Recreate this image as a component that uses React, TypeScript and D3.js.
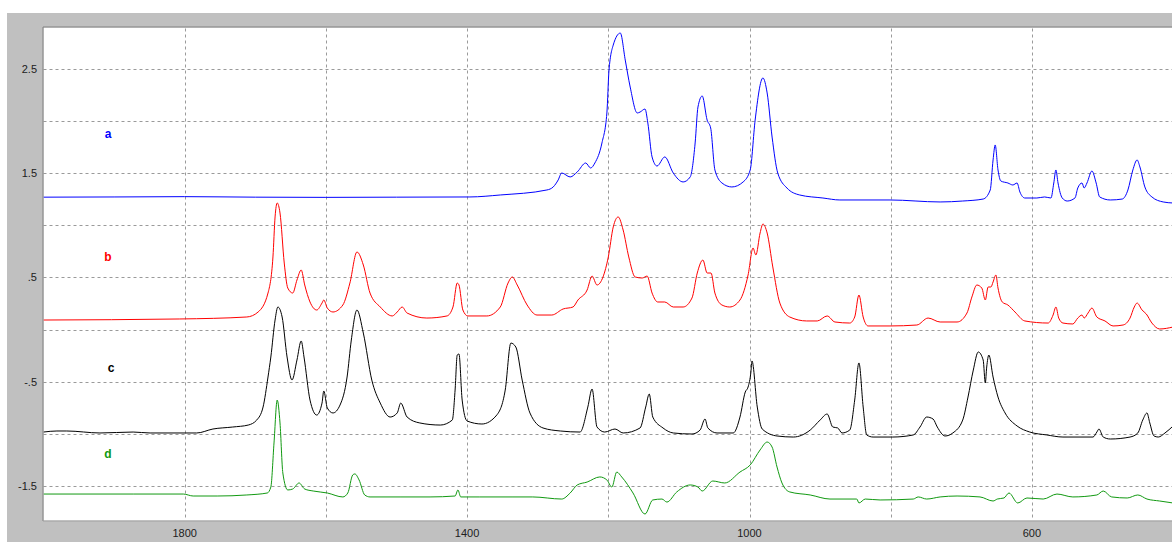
import React from "react";
import * as d3 from "d3";

// ---------- data (wavenumber cm-1, absorbance offset) ----------
const xTickValues = [1800, 1400, 1000, 600];
const xGridValues = [1800, 1600, 1400, 1200, 1000, 800, 600];
const yTickValues = [2.5, 1.5, 0.5, -0.5, -1.5];
const yTickLabels = ["2.5", "1.5", ".5", "-.5", "-1.5"];
const yGridValues = [2.5, 2, 1.5, 1, 0.5, 0, -0.5, -1, -1.5];
const seriesNames = ["a", "b", "c", "d"];

const seriesA: [number, number][] = [
  [2000, 1.27], [1900, 1.272], [1800, 1.275], [1700, 1.27], [1600, 1.268], [1500, 1.27], [1396, 1.272],
  [1353, 1.291], [1287, 1.339], [1278, 1.368], [1271, 1.435], [1266, 1.502], [1254, 1.464], [1244, 1.512],
  [1232, 1.598], [1225, 1.55], [1219, 1.598], [1209, 1.79], [1202, 2.078], [1199, 2.49], [1193, 2.73],
  [1183, 2.845], [1176, 2.586], [1169, 2.327], [1159, 2.078], [1155, 2.087], [1148, 2.116], [1144, 1.982],
  [1138, 1.656], [1131, 1.569], [1120, 1.656], [1108, 1.502], [1094, 1.416], [1084, 1.464], [1077, 1.79],
  [1073, 2.135], [1067, 2.241], [1060, 2.01], [1055, 1.934], [1049, 1.531], [1039, 1.406], [1025, 1.368],
  [1009, 1.416], [999, 1.531], [992, 2.01], [981, 2.414], [975, 2.27], [968, 1.847], [960, 1.502],
  [947, 1.358], [929, 1.291], [896, 1.262], [872, 1.243], [801, 1.243], [730, 1.224], [698, 1.233],
  [669, 1.252], [659, 1.339], [655, 1.627], [652, 1.771], [648, 1.531], [644, 1.425], [634, 1.406],
  [627, 1.387], [621, 1.406], [617, 1.32], [610, 1.262], [593, 1.262], [582, 1.272], [573, 1.262],
  [569, 1.406], [566, 1.531], [563, 1.406], [557, 1.262], [550, 1.233], [539, 1.262], [535, 1.358],
  [529, 1.406], [526, 1.358], [522, 1.406], [515, 1.521], [509, 1.406], [504, 1.272], [489, 1.243],
  [472, 1.252], [464, 1.339], [457, 1.531], [451, 1.627], [447, 1.56], [440, 1.368], [430, 1.272],
  [414, 1.224], [400, 1.214],
];

const seriesB: [number, number][] = [
  [2000, 0.091], [1807, 0.101], [1712, 0.12], [1696, 0.168], [1682, 0.35], [1675, 0.696], [1672, 1.08],
  [1669, 1.214], [1665, 1.118], [1659, 0.638], [1654, 0.398], [1647, 0.35], [1641, 0.475], [1635, 0.571],
  [1630, 0.427], [1622.5, 0.264], [1613, 0.187], [1605.5, 0.254], [1603, 0.283], [1598, 0.206], [1590, 0.168],
  [1576, 0.235], [1566, 0.446], [1556, 0.744], [1547, 0.619], [1537.5, 0.35], [1523, 0.216], [1506, 0.13],
  [1499, 0.168], [1492, 0.216], [1485, 0.158], [1457, 0.11], [1428.5, 0.13], [1420, 0.216], [1414, 0.446],
  [1411.5, 0.427], [1406, 0.187], [1399, 0.13], [1372, 0.13], [1353, 0.216], [1342, 0.446], [1336, 0.504],
  [1329, 0.427], [1315, 0.235], [1301, 0.139], [1280, 0.139], [1264, 0.197], [1250, 0.216], [1243, 0.283],
  [1230, 0.379], [1223, 0.513], [1216, 0.427], [1207.5, 0.504], [1200, 0.696], [1193, 0.984], [1186, 1.08],
  [1179, 0.955], [1171, 0.696], [1162, 0.504], [1152, 0.494], [1145, 0.513], [1138, 0.35], [1130, 0.264],
  [1120, 0.264], [1108, 0.216], [1094, 0.216], [1081.5, 0.302], [1074, 0.542], [1066, 0.667], [1060, 0.542],
  [1054.5, 0.542], [1049, 0.35], [1039, 0.235], [1028, 0.216], [1013.5, 0.283], [1002, 0.523], [995, 0.782],
  [991, 0.715], [985, 0.926], [981, 1.012], [975, 0.926], [967, 0.6], [957, 0.254], [943, 0.12], [919, 0.082],
  [904, 0.082], [890, 0.13], [879, 0.072], [858, 0.062], [851, 0.12], [845, 0.331], [839, 0.12], [832, 0.034],
  [801, 0.034], [763, 0.043], [747, 0.11], [730, 0.072], [706, 0.072], [692, 0.158], [685, 0.312], [678, 0.427],
  [671, 0.398], [666, 0.283], [662, 0.408], [658, 0.408], [655, 0.456], [651, 0.523], [648, 0.398], [642, 0.264],
  [634, 0.235], [624, 0.168], [610, 0.082], [577, 0.062], [570, 0.139], [566, 0.216], [562, 0.11], [556, 0.062],
  [542, 0.053], [535, 0.11], [529, 0.139], [526, 0.11], [520.5, 0.158], [515, 0.206], [508, 0.12], [496.5, 0.082],
  [485, 0.034], [471, 0.043], [461, 0.11], [455, 0.216], [451, 0.254], [444, 0.187], [438, 0.149], [430, 0.062],
  [419, 0.005], [400, 0.024],
];

const seriesC: [number, number][] = [
  [2000, -0.984], [1981, -0.974], [1967, -0.974], [1920, -0.993], [1873, -0.984], [1849, -0.993], [1783, -0.993],
  [1760, -0.955], [1732, -0.936], [1710, -0.917], [1698, -0.869], [1689, -0.744], [1682, -0.456], [1678, -0.264],
  [1672, 0.091], [1668, 0.216], [1662, 0.12], [1655, -0.264], [1648, -0.485], [1641, -0.293], [1635, -0.11],
  [1631, -0.264], [1622.5, -0.677], [1613, -0.821], [1605.5, -0.706], [1603, -0.59], [1598, -0.753], [1590, -0.801],
  [1580, -0.725], [1570, -0.456], [1564, -0.101], [1556, 0.187], [1547, -0.034], [1535, -0.485], [1523, -0.706],
  [1509, -0.84], [1499, -0.801], [1494, -0.706], [1485, -0.84], [1467, -0.897], [1438, -0.917], [1421, -0.869],
  [1417, -0.581], [1414, -0.245], [1411.5, -0.235], [1407, -0.677], [1400, -0.878], [1379, -0.907], [1358, -0.821],
  [1346, -0.581], [1338, -0.13], [1331, -0.168], [1322, -0.485], [1311, -0.801], [1292.5, -0.945], [1268, -0.974],
  [1240, -0.984], [1229, -0.744], [1223, -0.571], [1216, -0.936], [1205, -0.984], [1190.5, -0.955], [1179, -0.993],
  [1155, -0.945], [1147, -0.744], [1142, -0.619], [1137, -0.84], [1122.5, -0.945], [1108, -0.993], [1081.5, -1.003],
  [1070, -0.965], [1063, -0.859], [1059, -0.945], [1046, -0.993], [1023, -0.993], [1013.5, -0.84], [1006, -0.6],
  [1002, -0.552], [998, -0.408], [996.5, -0.302], [989, -0.744], [982, -0.955], [961, -1.022], [938, -1.032],
  [914, -0.965], [900, -0.869], [890, -0.811], [882, -0.936], [875, -0.945], [869, -0.993], [858, -0.965],
  [851, -0.677], [845, -0.321], [839, -0.744], [834, -1.012], [825, -1.032], [797, -1.032], [768, -1.012],
  [758.5, -0.936], [749, -0.84], [740, -0.859], [734, -0.936], [723, -1.022], [712, -0.993], [698, -0.869],
  [690.5, -0.648], [683, -0.389], [676, -0.216], [669, -0.293], [666, -0.513], [664, -0.36], [661, -0.245],
  [655, -0.456], [648, -0.648], [638, -0.801], [621, -0.926], [603, -0.984], [579, -1.012], [556, -1.032],
  [513.5, -1.032], [508, -0.984], [505, -0.955], [499, -1.032], [489, -1.051], [461, -1.032], [450, -0.993],
  [443, -0.869], [437, -0.801], [433, -0.897], [427, -1.022], [421, -1.032], [411.5, -0.993], [400, -0.926],
];

const seriesD: [number, number][] = [
  [2000, -1.579], [1873, -1.579], [1802, -1.579], [1788, -1.598], [1754, -1.598], [1712, -1.588], [1683, -1.569],
  [1678, -1.512], [1673.5, -1.089], [1669, -0.677], [1665, -0.897], [1661, -1.377], [1654, -1.54], [1647, -1.531],
  [1638, -1.473], [1630, -1.531], [1618, -1.55], [1598, -1.569], [1576, -1.607], [1569, -1.569], [1562, -1.396],
  [1559, -1.386], [1553, -1.444], [1545, -1.588], [1537.5, -1.607], [1495, -1.607], [1452.5, -1.607], [1417, -1.598],
  [1413, -1.54], [1409, -1.607], [1382, -1.607], [1335, -1.607], [1307, -1.607], [1266, -1.627], [1254, -1.569],
  [1244, -1.492], [1230, -1.464], [1212, -1.415], [1202, -1.444], [1195, -1.512], [1188, -1.368], [1181, -1.415],
  [1165, -1.569], [1148, -1.771], [1137, -1.636], [1124, -1.627], [1117, -1.656], [1103, -1.559], [1084, -1.492],
  [1073, -1.512], [1067, -1.55], [1052, -1.454], [1035, -1.473], [1013.5, -1.368], [999, -1.3], [985, -1.156],
  [975, -1.08], [968, -1.128], [961, -1.32], [954, -1.473], [943, -1.559], [914, -1.588], [886, -1.627],
  [848, -1.627], [845, -1.665], [836, -1.627], [815, -1.636], [768, -1.627], [761, -1.607], [749, -1.627],
  [730, -1.607], [706, -1.598], [673.5, -1.607], [655, -1.646], [649, -1.627], [639.5, -1.617], [632.5, -1.569],
  [620, -1.665], [607, -1.617], [584, -1.627], [564.5, -1.579], [542, -1.607], [508, -1.588], [499, -1.55],
  [487, -1.607], [465, -1.617], [450, -1.588], [437, -1.627], [419, -1.646], [400, -1.665],
];

// ---------- layout & style ----------
const W = 1172;
const H = 542;
const PL = 43.5, PT = 27.5, PR = 1172, PB = 520.5;
const seriesColors = ["#0000ff", "#ff0000", "#000000", "#119911"];
const labelPos = [
  [108, 138],
  [108, 261],
  [111, 372],
  [108, 458],
];
const FONT = "'Liberation Sans', Arial, sans-serif";

export default function App() {
  const x = d3.scaleLinear().domain([2000, 400]).range([43.5, 1173.1]);
  const y = d3.scaleLinear().domain([0, 1]).range([329.5, 225.3]);
  const line = d3
    .line<[number, number]>()
    .x((d) => x(d[0]))
    .y((d) => y(d[1]))
    .curve(d3.curveMonotoneX);
  const all = [seriesA, seriesB, seriesC, seriesD];

  return (
    <>
      <style>{"body{margin:0}"}</style>
      <svg width={W} height={H} style={{ display: "block" }}>
        <rect x={0} y={0} width={W} height={H} fill="#ffffff" />
        <rect x={7} y={13} width={W - 7} height={H - 13} fill="#c0c0c0" />
        <rect x={PL} y={PT} width={PR - PL} height={PB - PT} fill="#ffffff" />
        <defs>
          <clipPath id="plotclip">
            <rect x={PL} y={PT} width={PR - PL} height={PB - PT} />
          </clipPath>
        </defs>
        {/* grid */}
        <g stroke="#9a9a9a" strokeWidth={1} strokeDasharray="3,3">
          {xGridValues.map((v) => (
            <line key={"gx" + v} x1={Math.round(x(v)) + 0.5} x2={Math.round(x(v)) + 0.5} y1={PT + 1} y2={PB} />
          ))}
          {yGridValues.map((v) => (
            <line key={"gy" + v} x1={PL} x2={PR} y1={Math.round(y(v)) + 0.5} y2={Math.round(y(v)) + 0.5} />
          ))}
        </g>
        {/* border */}
        <line x1={PL - 0.5} x2={PR} y1={PT - 0.5} y2={PT - 0.5} stroke="#808080" />
        <line x1={PL - 0.5} x2={PL - 0.5} y1={PT - 0.5} y2={PB + 0.5} stroke="#808080" />
        <line x1={PL - 0.5} x2={PR} y1={PB + 0.5} y2={PB + 0.5} stroke="#a0a0a0" />
        {/* series */}
        <g clipPath="url(#plotclip)" fill="none" strokeWidth={1}>
          {all.map((s, i) => (
            <path key={"s" + i} d={line(s) || ""} stroke={seriesColors[i]} />
          ))}
        </g>
        {/* series labels */}
        {seriesNames.map((n, i) => (
          <text
            key={"l" + n}
            x={labelPos[i][0]}
            y={labelPos[i][1]}
            textAnchor="middle"
            fontFamily={FONT}
            fontWeight="bold"
            fontSize={12}
            fill={seriesColors[i]}
          >
            {n}
          </text>
        ))}
        {/* y tick labels */}
        {yTickValues.map((v, i) => (
          <text
            key={"yt" + v}
            x={37}
            y={y(v) + 4}
            textAnchor="end"
            fontFamily={FONT}
            fontSize={11}
            fill="#202020"
          >
            {yTickLabels[i]}
          </text>
        ))}
        {/* x tick labels */}
        {xTickValues.map((v) => (
          <text
            key={"xt" + v}
            x={x(v)}
            y={537}
            textAnchor="middle"
            fontFamily={FONT}
            fontSize={11}
            fill="#202020"
          >
            {v}
          </text>
        ))}
      </svg>
    </>
  );
}
